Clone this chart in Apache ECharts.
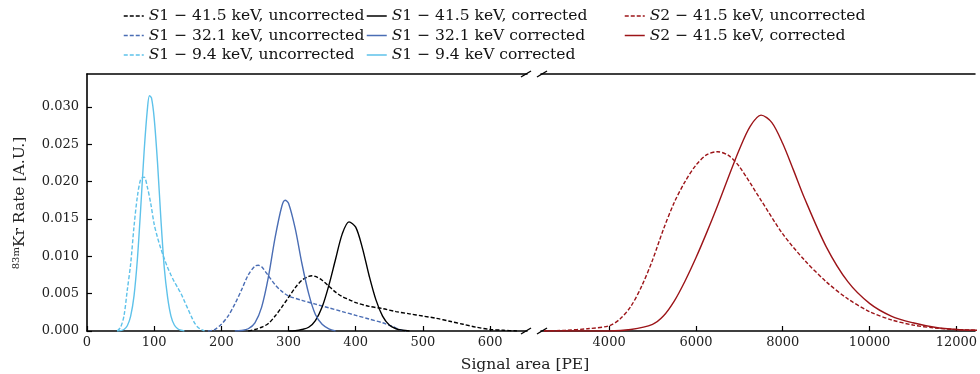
<!DOCTYPE html>
<html>
<head>
<meta charset="utf-8">
<script src="https://cdn.jsdelivr.net/npm/echarts@6/dist/echarts.min.js"></script>
<style>
  html, body { margin: 0; padding: 0; background: #fff; }
  #chart { width: 980px; height: 374px; }
</style>
</head>
<body>
<div id="chart"></div>
<script>
// ---- S1 spectra (low-PE panel) ----
const s1_94_unc_pe   = [45, 50, 55, 60, 65, 70, 75, 80, 85, 90, 95, 100, 105, 110, 115, 120, 125, 130, 135, 140, 145, 150, 155, 160, 165, 170, 175];
const s1_94_unc_rate = [0, 0.0005, 0.0020, 0.0055, 0.0090, 0.0140, 0.0180, 0.0203, 0.0206, 0.0192, 0.0170, 0.0143, 0.0125, 0.0110, 0.0097, 0.0085, 0.0075, 0.0066, 0.0058, 0.0050, 0.0040, 0.0030, 0.0020, 0.0011, 0.0005, 0.0002, 0];

const s1_94_cor_pe   = [45, 50, 55, 60, 65, 70, 75, 80, 85, 90, 93, 96, 100, 105, 110, 115, 120, 125, 130, 135, 140, 145];
const s1_94_cor_rate = [0, 0.00005, 0.0002, 0.0007, 0.0020, 0.0047, 0.0096, 0.0165, 0.0240, 0.0298, 0.0315, 0.0312, 0.0285, 0.0225, 0.0150, 0.0085, 0.0045, 0.0020, 0.0008, 0.0003, 0.0001, 0];

const s1_321_unc_pe   = [180, 190, 200, 210, 220, 230, 240, 250, 255, 260, 270, 280, 290, 300, 320, 340, 360, 380, 400, 420, 440, 455, 465, 475];
const s1_321_unc_rate = [0, 0.0002, 0.0009, 0.0020, 0.0036, 0.0055, 0.0075, 0.0087, 0.0088, 0.0086, 0.0074, 0.0062, 0.0053, 0.0047, 0.0041, 0.0036, 0.0031, 0.0026, 0.0021, 0.0016, 0.0011, 0.0006, 0.0002, 0];

const s1_321_cor_pe   = [220, 230, 240, 250, 260, 270, 280, 290, 295, 300, 310, 320, 330, 340, 350, 360, 370];
const s1_321_cor_rate = [0, 0.00006, 0.0003, 0.0011, 0.0032, 0.0072, 0.0125, 0.0167, 0.0175, 0.0171, 0.0137, 0.0090, 0.0050, 0.0022, 0.0009, 0.0003, 0];

const s1_415_unc_pe   = [240, 250, 260, 270, 280, 290, 300, 310, 320, 330, 335, 340, 350, 360, 370, 380, 390, 400, 420, 440, 460, 480, 500, 520, 540, 560, 580, 600, 620, 640];
const s1_415_unc_rate = [0, 0.0002, 0.0005, 0.0010, 0.0020, 0.0032, 0.0045, 0.0058, 0.0068, 0.0073, 0.0074, 0.0073, 0.0068, 0.0060, 0.0052, 0.0046, 0.0042, 0.0038, 0.0033, 0.0030, 0.0026, 0.0023, 0.0020, 0.0017, 0.0013, 0.0009, 0.0005, 0.0002, 0.0001, 0];

const s1_415_cor_pe   = [300, 310, 320, 330, 340, 350, 360, 370, 380, 390, 400, 410, 420, 430, 440, 450, 460, 470, 480];
const s1_415_cor_rate = [0, 0.00004, 0.0002, 0.0005, 0.0014, 0.0032, 0.0061, 0.0096, 0.0130, 0.0146, 0.0139, 0.0111, 0.0074, 0.0042, 0.0020, 0.0008, 0.0003, 0.0001, 0];

// ---- S2 spectra (high-PE panel) ----
const s2_415_unc_pe   = [2500, 3000, 3500, 4000, 4250, 4500, 4750, 5000, 5250, 5500, 5750, 6000, 6250, 6500, 6750, 7000, 7500, 8000, 8500, 9000, 9500, 10000, 10500, 11000, 11500, 12000, 12500];
const s2_415_unc_rate = [0, 0.0001, 0.0003, 0.0007, 0.0016, 0.0033, 0.0060, 0.0095, 0.0136, 0.0172, 0.0200, 0.0222, 0.0236, 0.0240, 0.0235, 0.0220, 0.0175, 0.0130, 0.0095, 0.0066, 0.0043, 0.0026, 0.0015, 0.0008, 0.0004, 0.0002, 0.0001];

const s2_415_cor_pe   = [2500, 4000, 4500, 5000, 5250, 5500, 5750, 6000, 6250, 6500, 6750, 7000, 7250, 7500, 7750, 8000, 8250, 8500, 9000, 9500, 10000, 10500, 11000, 11500, 12000, 12500];
const s2_415_cor_rate = [0, 0, 0.0002, 0.0009, 0.0020, 0.0040, 0.0067, 0.0098, 0.0132, 0.0168, 0.0206, 0.0243, 0.0274, 0.0289, 0.0279, 0.0251, 0.0215, 0.0178, 0.0113, 0.0066, 0.0037, 0.0020, 0.0011, 0.0005, 0.0002, 0.0001];

// ---- axis ticks ----
const lowTicks  = [0, 100, 200, 300, 400, 500, 600];
const highTicks = [4000, 6000, 8000, 10000, 12000];
const rateTicks = [0, 0.005, 0.010, 0.015, 0.020, 0.025, 0.030];

// ---- legend names ----
const names = {
  k415u: 'S1 − 41.5 keV, uncorrected',
  k321u: 'S1 − 32.1 keV, uncorrected',
  k94u:  'S1 − 9.4 keV, uncorrected',
  k415c: 'S1 − 41.5 keV, corrected',
  k321c: 'S1 − 32.1 keV corrected',
  k94c:  'S1 − 9.4 keV corrected',
  s2u:   'S2 − 41.5 keV, uncorrected',
  s2c:   'S2 − 41.5 keV, corrected'
};

const BLACK = '#000000', BLUE = '#4a6db4', LIGHT = '#5ec2ea', RED = '#9c1418';
const SERIF = '"DejaVu Serif", "Liberation Serif", serif';

function pairs(xs, ys) { return xs.map((x, i) => [x, ys[i]]); }

function line(name, xs, ys, color, dashed, gridIdx) {
  return {
    name, type: 'line',
    xAxisIndex: gridIdx === 0 ? 0 : 2,
    yAxisIndex: gridIdx,
    data: pairs(xs, ys),
    symbol: 'none',
    smooth: 0.3,
    animation: false,
    lineStyle: { color, width: 1.4, type: dashed ? [4, 2] : 'solid' },
    itemStyle: { color }
  };
}

const Y_MIN = 0, Y_MAX = 0.0344;

function xAxisCfg(gridIndex, min, max, ticks, top) {
  return {
    type: 'value', gridIndex, min, max,
    position: top ? 'top' : 'bottom',
    axisLine: { show: true, onZero: false, lineStyle: { color: '#000', width: 1.6 } },
    axisTick: top ? { show: false } : { show: true, inside: true, length: 5, customValues: ticks, lineStyle: { color: '#000', width: 1.2 } },
    axisLabel: top ? { show: false } : { show: true, customValues: ticks, margin: 5, color: '#222', fontFamily: SERIF, fontSize: 13, formatter: v => String(v) },
    splitLine: { show: false }
  };
}

const legendText = {
  fontFamily: SERIF, fontSize: 15.5, color: '#111', lineHeight: 16,
  rich: { i: { fontFamily: SERIF, fontSize: 15.5, fontStyle: 'italic', color: '#111', lineHeight: 16 } }
};
function legendFmt(n) { return '{i|S}' + n.slice(1); }
function legendCfg(left, data) {
  return {
    left, top: 8, orient: 'vertical', itemWidth: 20, itemHeight: 10, itemGap: 3.5,
    padding: 0, data, formatter: legendFmt, textStyle: legendText,
    itemStyle: { opacity: 0 },
    lineStyle: { width: 1.5 }
  };
}

// break marks on the cut x axis
const breaks = [];
[[526, 74], [526, 331], [542, 74], [542, 331]].forEach(([x, y]) => {
  breaks.push({ type: 'line', shape: { x1: x - 5, y1: y + 3, x2: x + 5, y2: y - 3 }, style: { stroke: '#000', lineWidth: 1.4 } });
});

const option = {
  backgroundColor: '#fff',
  animation: false,
  grid: [
    { left: 87, right: 453, top: 74, bottom: 43 },
    { left: 541, right: 0, top: 74, bottom: 43 }
  ],
  xAxis: [
    xAxisCfg(0, 0, 655, lowTicks, false),
    xAxisCfg(0, 0, 655, lowTicks, true),
    xAxisCfg(1, 2430, 12430, highTicks, false),
    xAxisCfg(1, 2430, 12430, highTicks, true)
  ],
  yAxis: [
    {
      type: 'value', gridIndex: 0, min: Y_MIN, max: Y_MAX,
      axisLine: { show: true, lineStyle: { color: '#000', width: 1.6 } },
      axisTick: { show: true, inside: true, length: 5, customValues: rateTicks, lineStyle: { color: '#000', width: 1.2 } },
      axisLabel: { show: true, customValues: rateTicks, margin: 8, color: '#222', fontFamily: SERIF, fontSize: 13,
                   formatter: v => v.toFixed(3) },
      splitLine: { show: false }
    },
    {
      type: 'value', gridIndex: 1, min: Y_MIN, max: Y_MAX,
      axisLine: { show: false }, axisTick: { show: false }, axisLabel: { show: false }, splitLine: { show: false }
    }
  ],
  legend: [
    legendCfg(123, [names.k415u, names.k321u, names.k94u]),
    legendCfg(366, [names.k415c, names.k321c, names.k94c]),
    legendCfg(624, [names.s2u, names.s2c])
  ],
  graphic: [
    ...breaks,
    {
      type: 'text', x: 20, y: 203, rotation: Math.PI / 2,
      style: {
        text: '{sup|83m}{t|Kr Rate [A.U.]}',
        align: 'center', verticalAlign: 'middle',
        rich: {
          sup: { fontFamily: SERIF, fontSize: 10, fill: '#222', padding: [0, 0, 8, 0] },
          t: { fontFamily: SERIF, fontSize: 15.5, fill: '#222' }
        }
      }
    },
    {
      type: 'text', x: 525, y: 365,
      style: { text: 'Signal area [PE]', align: 'center', verticalAlign: 'middle', fontFamily: SERIF, fontSize: 15.5, fill: '#222' }
    }
  ],
  series: [
    line(names.k415u, s1_415_unc_pe, s1_415_unc_rate, BLACK, true, 0),
    line(names.k321u, s1_321_unc_pe, s1_321_unc_rate, BLUE, true, 0),
    line(names.k94u,  s1_94_unc_pe,  s1_94_unc_rate,  LIGHT, true, 0),
    line(names.k415c, s1_415_cor_pe, s1_415_cor_rate, BLACK, false, 0),
    line(names.k321c, s1_321_cor_pe, s1_321_cor_rate, BLUE, false, 0),
    line(names.k94c,  s1_94_cor_pe,  s1_94_cor_rate,  LIGHT, false, 0),
    line(names.s2u,   s2_415_unc_pe, s2_415_unc_rate, RED, true, 1),
    line(names.s2c,   s2_415_cor_pe, s2_415_cor_rate, RED, false, 1)
  ]
};

const chart = echarts.init(document.getElementById('chart'), null, { renderer: 'canvas' });
chart.setOption(option);
</script>
</body>
</html>
